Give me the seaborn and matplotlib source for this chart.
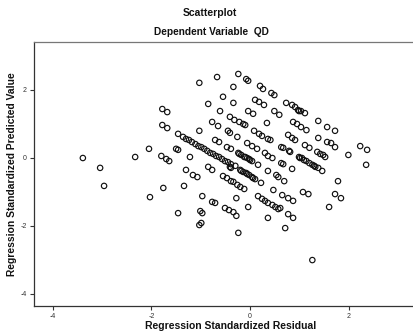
import matplotlib
matplotlib.use("Agg")
import matplotlib.pyplot as plt
import seaborn as sns
import pandas as pd

# Regression standardized residual (x) and standardized predicted value (y)
resid = [
    -3.39, -3.04, -2.96, -2.33, -2.05, -2.03, -1.78, -1.68, -1.78, -1.68,
    -1.46, -1.80, -1.70, -1.64, -1.50, -1.46, -1.22, -1.30, -1.16, -1.07,
    -1.34, -1.76, -1.46, -0.97, -1.01, -0.97, -1.03, -0.99, -1.03, -0.85,
    -1.03, -0.85, -0.77,
    -1.36, -1.30, -1.24, -1.18, -1.11, -1.05, -0.99, -0.93, -0.87, -0.81,
    -0.75, -0.69, -0.63, -0.57, -0.51, -0.45, -0.39, -0.30,
    -0.67, -0.24, -0.08, -0.04, -0.34, 0.20, 0.26, 0.43, 0.49, -0.55,
    -0.34, 0.10, 0.18, 0.28, 0.49, 0.59, -0.61, -0.04, 0.06, -0.77,
    -0.65, -0.41, -0.32, -0.22, -0.14, -0.10, 0.34, -0.45, -0.41, -0.26,
    0.08, 0.18, 0.24, 0.36, 0.41, -0.71, -0.63, -0.47, -0.39, -0.06,
    0.04, 0.14, -0.24, -0.18, -0.12, -0.06, 0.00, 0.04, 0.30, 0.36,
    0.45, 0.16,
    -0.55, -0.47, -0.39, -0.34, -0.26, -0.20, -0.12, -0.20, -0.14, -0.08,
    -0.02, 0.04, 0.10, 0.22, -0.41, -0.77, -0.71, -0.28, -0.04, -0.51,
    -0.43, -0.34, -0.28, -0.24, 0.16, 0.24, 0.30, 0.36, 0.45, 0.51,
    0.57, 0.36, 0.65, 0.77, 0.87, 0.77, 0.87, 0.71, 0.36, 0.53,
    0.57, 0.47, 0.63, 0.67, 0.85, 0.69,
    0.73, 0.85, 0.91, 0.97, 0.99, 1.03, 1.11, 0.87, 0.95, 1.03,
    1.14, 1.38, 1.56, 1.72, 0.77, 0.85, 0.91, 1.38, 1.56, 1.64,
    1.72, 1.11, 1.20, 2.23, 2.37, 1.99, 0.63, 0.67, 0.79, 0.81,
    1.36, 1.42, 1.48, 1.52, 0.99, 1.01, 1.05, 1.14, 1.20, 1.26,
    1.30, 1.32, 1.38, 1.46, 1.09, 2.35, 1.78, 1.07, 1.18, 1.72,
    1.84, 1.60, 0.61, 1.26,
    -0.18, -0.06, 0.06, -0.22, -0.10, -0.02, -0.39,
]
pred = [
    -0.01, -0.30, -0.83, 0.02, 0.26, -1.16, 1.43, 1.34, 0.96, 0.87,
    0.70, 0.05, -0.04, -0.10, 0.26, 0.23, 0.02, -0.36, -0.51, -0.57,
    -0.83, -0.89, -1.63, -1.13, -1.57, -1.63, -1.98, -1.92, 2.20, 1.58,
    0.79, -0.27, -0.36,
    0.61, 0.55, 0.52, 0.46, 0.40, 0.34, 0.31, 0.26, 0.20, 0.14,
    0.11, 0.05, 0.02, -0.04, -0.10, -0.13, -0.19, -0.24,
    2.37, 2.46, 2.31, 2.26, 2.08, 2.11, 2.02, 1.90, 1.84, 1.79,
    1.61, 1.70, 1.64, 1.55, 1.37, 1.26, 1.37, 1.37, 1.29, 1.05,
    0.93, 1.20, 1.11, 1.05, 0.99, 0.96, 1.02, 0.79, 0.73, 0.61,
    0.79, 0.70, 0.64, 0.55, 0.52, 0.52, 0.46, 0.31, 0.26, 0.43,
    0.34, 0.26, 0.14, 0.08, 0.02, -0.01, -0.07, -0.10, 0.14, 0.05,
    -0.01, -0.21,
    -0.54, -0.60, -0.69, -0.71, -0.80, -0.86, -0.92, -0.36, -0.42, -0.45,
    -0.51, -0.57, -0.63, -0.74, -0.27, -1.30, -1.33, -1.19, -1.45, -1.48,
    -1.54, -1.60, -1.71, -2.21, -1.13, -1.21, -1.27, -1.33, -1.39, -1.45,
    -1.51, -1.77, -1.10, -1.19, -1.27, -1.66, -1.77, -2.07, -0.39, -0.51,
    -0.57, -0.95, -0.16, -0.19, -0.33, -0.69,
    1.61, 1.55, 1.49, 1.40, 1.37, 1.37, 1.31, 1.05, 0.99, 0.90,
    0.81, 1.08, 0.90, 0.79, 0.67, 0.58, 0.52, 0.58, 0.46, 0.43,
    0.31, 0.37, 0.29, 0.34, 0.23, 0.08, 0.31, 0.29, 0.20, 0.17,
    0.17, 0.11, 0.08, 0.02, 0.02, -0.01, -0.01, -0.10, -0.16, -0.21,
    -0.24, -0.27, -0.30, -0.39, -0.07, -0.21, -0.69, -1.01, -1.07, -1.07,
    -1.19, -1.45, -1.48, -3.01,
    -0.39, -0.48, -0.60, 0.11, 0.02, -0.04, -0.30,
]

x_ticks = [-4, -2, 0, 2]
y_ticks = [2, 0, -2, -4]
tick_labels_x = ["-4", "-2", "0", "2"]
tick_labels_y = ["2", "0", "-2", "-4"]

df = pd.DataFrame({"resid": resid, "pred": pred})

sns.set_style("white")
plt.rcParams["font.family"] = ["Liberation Sans", "DejaVu Sans"]

fig = plt.figure(figsize=(4.14, 3.36), dpi=100)
ax = fig.add_axes([34 / 414, 1 - 306 / 336, 1 - 34 / 414, (306 - 42) / 336])

sns.scatterplot(data=df, x="resid", y="pred", ax=ax, s=15,
                facecolor="none", edgecolor="#111111", linewidth=0.85,
                marker="o", legend=False)

ax.set_xlim(-4.38, 3.32)
ax.set_ylim(-4.36, 3.40)
ax.set_xticks(x_ticks)
ax.set_xticklabels(tick_labels_x)
ax.set_yticks(y_ticks)
ax.set_yticklabels(tick_labels_y)
ax.tick_params(axis="both", which="both", direction="out", length=3,
               width=0.8, labelsize=5, colors="#333333", pad=2,
               bottom=True, left=True)
for side in ["left", "bottom", "top"]:
    ax.spines[side].set_visible(True)
    ax.spines[side].set_color("#333333")
    ax.spines[side].set_linewidth(0.9)
ax.spines["top"].set_color("#777777")
ax.spines["right"].set_visible(False)

ax.set_xlabel("")
ax.set_ylabel("")

fig.text(210 / 414, 1 - 13 / 336, "Scatterplot", ha="center", va="center",
         fontsize=7.5, fontweight="bold", color="#111111")
fig.text(211 / 414, 1 - 32 / 336, "Dependent Variable  QD", ha="center",
         va="center", fontsize=7.3, fontweight="bold", color="#111111")
fig.text(231 / 414, 1 - 326 / 336, "Regression Standardized Residual",
         ha="center", va="center", fontsize=7.5, fontweight="bold",
         color="#111111")
fig.text(12 / 414, 1 - 174 / 336, "Regression Standardized Predicted Value",
         ha="center", va="center", rotation=90, fontsize=7.4,
         fontweight="bold", color="#111111")

fig.savefig("out.png", dpi=100)
